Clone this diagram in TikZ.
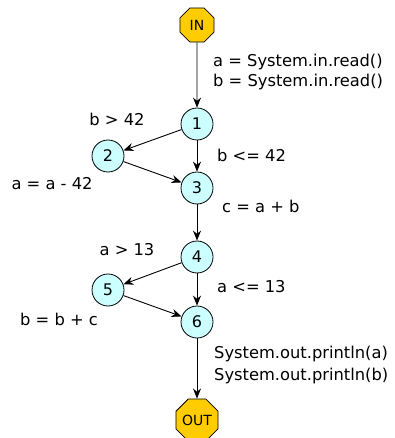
\documentclass[tikz,border=0pt]{standalone}
\usepackage{fontspec}
\setmainfont{DejaVu Sans}
\usetikzlibrary{shapes.geometric,arrows.meta}
\definecolor{blockfill}{RGB}{204,255,255}
\definecolor{termfill}{RGB}{255,204,0}
\begin{document}
\begin{tikzpicture}[x=1pt,y=-1pt,
  blk/.style={circle, draw, line width=0.8pt, fill=blockfill, minimum size=32pt,
    inner sep=0pt, font=\fontsize{16}{18}\selectfont},
  term/.style={regular polygon, regular polygon sides=8, draw, line width=0.8pt,
    fill=termfill, minimum size=37pt, inner sep=0pt, font=\fontsize{14}{16}\selectfont},
  lbl/.style={inner sep=0pt, font=\fontsize{16.3}{20}\selectfont},
  flow/.style={-{Stealth[length=10pt,width=8pt]}, line width=0.9pt}]
\useasboundingbox (0,0) rectangle (394,438);
\fill[white] (0,0) rectangle (394,438);

% blocks of the control flow graph
\node[term] (in)  at (197,25)  {IN};
\node[blk]  (n1)  at (197,124) {1};
\node[blk]  (n2)  at (108,156) {2};
\node[blk]  (n3)  at (197,188) {3};
\node[blk]  (n4)  at (197,257) {4};
\node[blk]  (n5)  at (108,290) {5};
\node[blk]  (n6)  at (197,322) {6};
\node[term] (out) at (197,420) {OUT};

% edges
\draw[flow] (in) -- (n1);
\draw[flow] (n1) -- (n2);
\draw[flow] (n1) -- (n3);
\draw[flow] (n2) -- (n3);
\draw[flow] (n3) -- (n4);
\draw[flow] (n4) -- (n5);
\draw[flow] (n4) -- (n6);
\draw[flow] (n5) -- (n6);
\draw[flow] (n6) -- (out);

% statements and conditions
\node[lbl, anchor=west] (s1) at (213,62) {a = System.in.read()};
\node[lbl, anchor=west] (s2) at (213,82) {b = System.in.read()};
\node[lbl] (c1) at (117,119) {b > 42};
\node[lbl, anchor=west] (c2) at (217,155) {b <= 42};
\node[lbl] (s3) at (52,184) {a = a - 42};
\node[lbl, anchor=west] (s4) at (222,206) {c = a + b};
\node[lbl] (c3) at (127,250) {a > 13};
\node[lbl, anchor=west] (c4) at (217,287) {a <= 13};
\node[lbl] (s5) at (59,319) {b = b + c};
\node[lbl, anchor=west] (s6) at (214,354) {System.out.println(a)};
\node[lbl, anchor=west] (s7) at (214,376) {System.out.println(b)};
\end{tikzpicture}
\end{document}
